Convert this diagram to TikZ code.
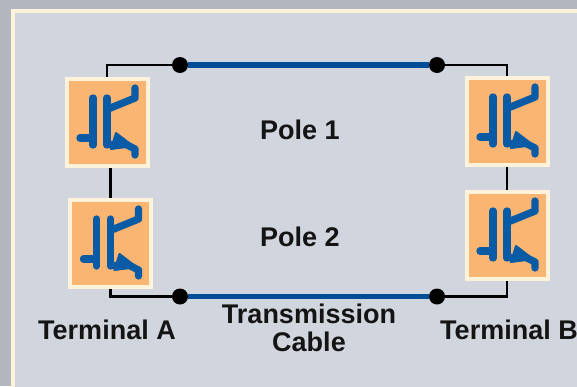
\documentclass[tikz,border=0pt]{standalone}
\usepackage{fontspec}
\setmainfont{Liberation Sans}
\definecolor{outerbg}{HTML}{B2B6BF}
\definecolor{innerbg}{HTML}{D1D5DD}
\definecolor{cream}{HTML}{FFF2DA}
\definecolor{boxorange}{HTML}{F9B571}
\definecolor{symblue}{HTML}{0A5BA5}
\definecolor{cableblue}{HTML}{004C97}
\tikzset{
  sym/.style={draw=symblue, line width=7.3pt, line cap=round, line join=round},
  igbt/.pic={
    \draw[sym] (-27,16) -- (-14,16);
    \draw[sym] (-14,-24) -- (-14,23);
    \draw[sym] (0,-24) -- (0,23);
    \draw[sym] (1,-13) -- (28,-24) -- (28,-34);
    \draw[sym] (1,22.5) -- (19,22.5) -- (28,27) -- (28,33);
    \filldraw[symblue, line width=2pt, line join=round] (9,11) -- (26,24) -- (4,27) -- cycle;
  },
  swbox/.style={draw=cream, line width=4pt, fill=boxorange, minimum width=81pt, minimum height=87pt, inner sep=0pt},
  wire/.style={draw=black, line width=2.6pt},
  cable/.style={draw=cableblue, line width=5.5pt},
  dot/.style={circle, fill=black, minimum size=16pt, inner sep=0pt},
  lbl/.style={font=\bfseries\fontsize{27}{29}\selectfont, text=black!92, inner sep=0pt, align=center}
}
\begin{document}
\begin{tikzpicture}[x=1pt,y=-1pt]
\useasboundingbox (0,0) rectangle (577,386);
\clip (0,0) rectangle (577,386);
\fill[outerbg] (0,0) rectangle (577,386);
\draw[cream, line width=4pt, fill=innerbg] (13,11) rectangle (620,420);

\node[swbox] (b1) at (107,122) {};
\node[swbox] (b2) at (110.5,243) {};
\node[swbox] (b3) at (507,121) {};
\node[swbox] (b4) at (507,235) {};
\pic at (b1.center) {igbt};
\pic at (b2.center) {igbt};
\pic at (b3.center) {igbt};
\pic at (b4.center) {igbt};

\node[dot] (d1) at (180,65) {};
\node[dot] (d2) at (437,65) {};
\node[dot] (d3) at (180,296.5) {};
\node[dot] (d4) at (437,296.5) {};

\draw[cable] (d1) -- (d2);
\draw[cable] (d3) -- (d4);
\draw[wire] (b1.north) |- (d1);
\draw[wire] (d2) -| (b3.north);
\draw[wire] (b2.south) |- (d3);
\draw[wire] (d4) -| (b4.south);
\draw[wire] (b2.north) -- (b2.north |- b1.south);
\draw[wire] (b3.south) -- (b4.north);

\node[lbl] (p1) at (300,130) {Pole 1};
\node[lbl] (p2) at (300,237) {Pole 2};
\node[lbl] (tc) at (309,328) {Transmission\\[-1pt]Cable};
\node[lbl] (ta) at (107,330) {Terminal A};
\node[lbl] (tb) at (509,330) {Terminal B};
\end{tikzpicture}
\end{document}
